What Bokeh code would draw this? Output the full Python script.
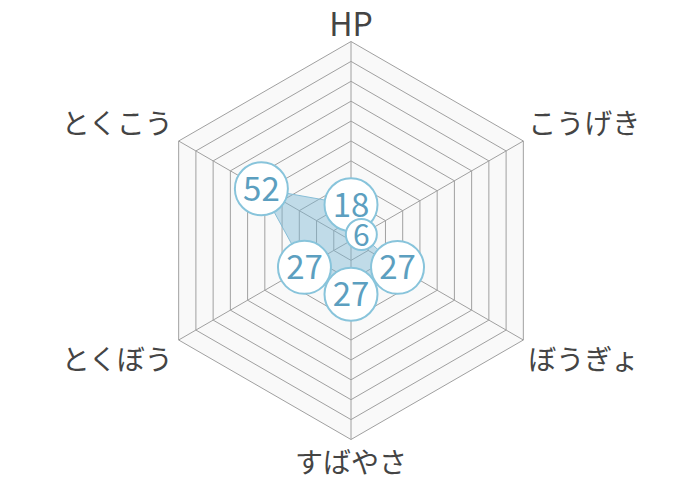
import math
from bokeh.plotting import figure
from bokeh.models import Range1d, ColumnDataSource
from bokeh.core.properties import value
from bokeh.embed import file_html
from bokeh.resources import INLINE

# ---- data ----
categories = ["HP", "こうげき", "ぼうぎょ", "すばやさ", "とくぼう", "とくこう"]
stats = [18, 6, 27, 27, 27, 52]
max_value = 100
ring_values = [10, 20, 30, 40, 50, 60, 70, 80, 90, 100]
draw_order = [0, 5, 4, 2, 1, 3]

# ---- geometry ----
R = 199.0
n = len(categories)
angles = [math.pi / 2 - i * 2 * math.pi / n for i in range(n)]

def pt(v, a):
    r = v / max_value * R
    return r * math.cos(a), r * math.sin(a)

p = figure(width=700, height=480, output_backend="svg", toolbar_location=None,
           x_range=Range1d(-350.5, 349.5), y_range=Range1d(-240, 240),
           min_border=0, outline_line_color=None, background_fill_color="white")
p.axis.visible = False
p.grid.visible = False

FONT = "Noto Sans CJK JP"

# background hexagon
hx = [pt(max_value, a)[0] for a in angles]
hy = [pt(max_value, a)[1] for a in angles]
p.patch(hx, hy, fill_color="#f9f9f9", line_color=None)

# rings
for rv in ring_values:
    xs = [pt(rv, a)[0] for a in angles] + [pt(rv, angles[0])[0]]
    ys = [pt(rv, a)[1] for a in angles] + [pt(rv, angles[0])[1]]
    p.line(xs, ys, line_color="#a0a0a0", line_width=1)

# spokes
for a in angles:
    x1, y1 = pt(max_value, a)
    p.line([0, x1], [0, y1], line_color="#a0a0a0", line_width=1)

# data polygon
dx = [pt(v, a)[0] for v, a in zip(stats, angles)]
dy = [pt(v, a)[1] for v, a in zip(stats, angles)]
p.patch(dx, dy, fill_color="#7ab6d3", fill_alpha=0.45,
        line_color="#86bdd6", line_width=1)

# value markers
for i in draw_order:
    label = str(stats[i])
    src = ColumnDataSource(dict(x=[dx[i]], y=[dy[i]], t=[label]))
    size = 53 if len(label) > 1 else 31
    p.scatter("x", "y", source=src, size=size, fill_color="white",
              line_color="#88c4db", line_width=2)
    p.text("x", "y", text="t", source=src, text_align="center",
           text_baseline="middle", text_color="#5c9fc0",
           text_font=value(FONT), text_font_size="33px" if len(label) > 1 else "30px")

# category labels
for i, (c, a) in enumerate(zip(categories, angles)):
    vx, vy = pt(max_value, a)
    size = "28px"
    if abs(vx) < 1:
        lx = 0
        if vy > 0:
            ly = vy + 20
            size = "32px"
        else:
            ly = vy - 21
        align = "center"
    elif vx > 0:
        lx = vx + 5
        ly = vy + (19 if vy > 0 else -18)
        align = "left"
    else:
        lx = vx - 5
        ly = vy + (19 if vy > 0 else -18)
        align = "right"
    p.text([lx], [ly], text=[c], text_align=align, text_baseline="middle",
           text_color="#444444", text_font=value(FONT), text_font_size=size)

open("out.html", "w").write(file_html(p, INLINE))
